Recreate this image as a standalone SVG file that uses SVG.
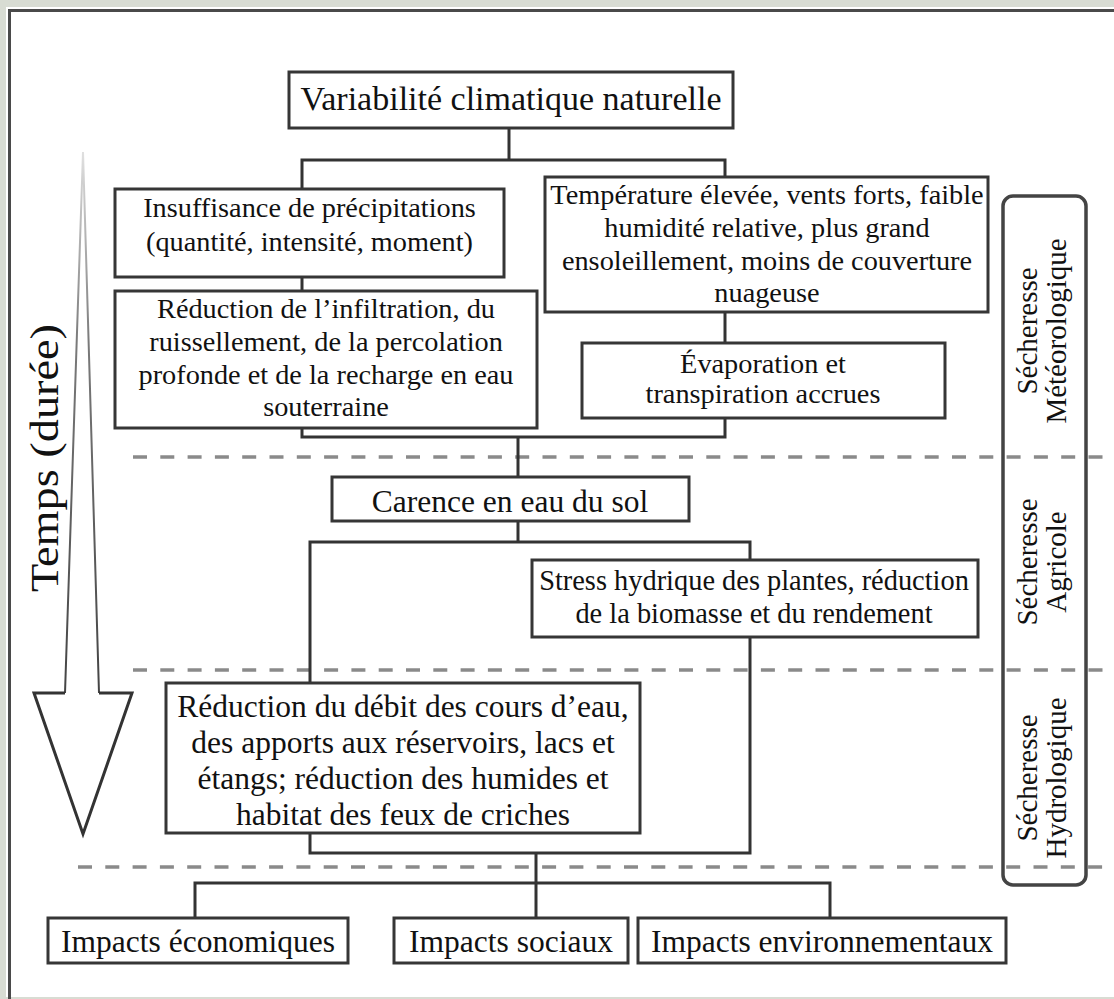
<svg xmlns="http://www.w3.org/2000/svg" width="1114" height="999" viewBox="0 0 1114 999">
<defs>
<style>
.box{fill:#fff;stroke:#363636;stroke-width:3}
.ln{fill:none;stroke:#333;stroke-width:3}
.dash{fill:none;stroke:#8a8a8a;stroke-width:3.5;stroke-dasharray:14 13.3}
.t{font-family:"Liberation Serif","Times New Roman",serif;fill:#111;text-anchor:middle}
.s28{font-size:28.3px}
.s31{font-size:31.5px}
.lab{font-size:29px}
</style>
<linearGradient id="shaft" x1="0" y1="152" x2="0" y2="693" gradientUnits="userSpaceOnUse">
<stop offset="0" stop-color="#e0e0e0"/><stop offset="0.35" stop-color="#7a7a7a"/><stop offset="1" stop-color="#444"/>
</linearGradient>
</defs>
<rect width="1114" height="999" fill="#d8dcd3"/>
<rect x="6" y="7" width="1108" height="990" fill="#fff"/>
<path d="M9.5 999 V10.5 H1114" fill="none" stroke="#4a4a4a" stroke-width="3"/>

<g id="phase-labels">
<rect x="1003" y="196" width="83" height="689" rx="10" fill="none" stroke="#444" stroke-width="3.5"/>
<text class="t lab" transform="translate(1037,331) rotate(-90)">Sécheresse</text>
<text class="t lab" transform="translate(1066,331) rotate(-90)">Météorologique</text>
<text class="t lab" transform="translate(1037,562) rotate(-90)">Sécheresse</text>
<text class="t lab" transform="translate(1066,562) rotate(-90)">Agricole</text>
<text class="t lab" transform="translate(1037,778) rotate(-90)">Sécheresse</text>
<text class="t lab" transform="translate(1066,778) rotate(-90)">Hydrologique</text>
</g>

<g id="separators">
<path class="dash" d="M133 457 H1112"/>
<path class="dash" d="M133 670 H1112"/>
<path class="dash" d="M78 867 H1112"/>
</g>

<g id="time-arrow">
<path d="M83 152 L65 693 M83 152 L99 693" stroke="url(#shaft)" stroke-width="2" fill="none"/>
<path d="M65 693 H34 L83 834 L132 693 H99" fill="none" stroke="#333" stroke-width="3"/>
<text class="t" font-size="40" textLength="268" lengthAdjust="spacingAndGlyphs" transform="translate(58,458) rotate(-90)">Temps (durée)</text>
</g>

<g id="connectors">
<path class="ln" d="M509 128 V160"/>
<path class="ln" d="M302 189 V160 H725 V177"/>
<path class="ln" d="M302 277 V291"/>
<path class="ln" d="M725 312 V343"/>
<path class="ln" d="M302 428 V437 H725 V418"/>
<path class="ln" d="M518 437 V477"/>
<path class="ln" d="M518 521 V542"/>
<path class="ln" d="M310 683 V542 H750 V560"/>
<path class="ln" d="M750 637 V853 H310 V833"/>
<path class="ln" d="M536 853 V918"/>
<path class="ln" d="M195 918 V883 H830 V918"/>
</g>

<g id="n-variabilite">
<rect class="box" x="289" y="72" width="444" height="56"/>
<text class="t" font-size="34" x="511" y="110">Variabilité climatique naturelle</text>
</g>
<g id="n-insuffisance">
<rect class="box" x="115" y="189" width="389" height="88"/>
<text class="t s28" x="309.5" y="217">Insuffisance de précipitations</text>
<text class="t s28" x="309.5" y="251">(quantité, intensité, moment)</text>
</g>
<g id="n-infiltration">
<rect class="box" x="115" y="291" width="422" height="137"/>
<text class="t s28" x="326" y="318">Réduction de l’infiltration, du</text>
<text class="t s28" x="326" y="351">ruissellement, de la percolation</text>
<text class="t s28" x="326" y="384">profonde et de la recharge en eau</text>
<text class="t s28" x="326" y="416">souterraine</text>
</g>
<g id="n-temperature">
<rect class="box" x="545" y="177" width="443" height="135"/>
<text class="t s28" x="767" y="204">Température élevée, vents forts, faible</text>
<text class="t s28" x="767" y="237">humidité relative, plus grand</text>
<text class="t s28" x="767" y="270">ensoleillement, moins de couverture</text>
<text class="t s28" x="767" y="302">nuageuse</text>
</g>
<g id="n-evaporation">
<rect class="box" x="582" y="343" width="363" height="75"/>
<text class="t s28" x="763" y="373">Évaporation et</text>
<text class="t s28" x="763" y="403">transpiration accrues</text>
</g>
<g id="n-carence">
<rect class="box" x="332" y="477" width="357" height="44"/>
<text class="t s31" x="510" y="512">Carence en eau du sol</text>
</g>
<g id="n-stress">
<rect class="box" x="532" y="560" width="446" height="77"/>
<text class="t" font-size="28.4" x="754" y="590">Stress hydrique des plantes, réduction</text>
<text class="t" font-size="28.4" x="754" y="623">de la biomasse et du rendement</text>
</g>
<g id="n-debit">
<rect class="box" x="166" y="683" width="474" height="150"/>
<text class="t s31" x="403" y="717">Réduction du débit des cours d’eau,</text>
<text class="t s31" x="403" y="753">des apports aux réservoirs, lacs et</text>
<text class="t s31" x="403" y="789">étangs; réduction des humides et</text>
<text class="t s31" x="403" y="825">habitat des feux de criches</text>
</g>
<g id="n-eco">
<rect class="box" x="48" y="918" width="300" height="45"/>
<text class="t s31" x="198" y="952">Impacts économiques</text>
</g>
<g id="n-soc">
<rect class="box" x="394" y="918" width="234" height="45"/>
<text class="t s31" x="511" y="952">Impacts sociaux</text>
</g>
<g id="n-env">
<rect class="box" x="638" y="918" width="368" height="45"/>
<text class="t s31" x="822" y="952">Impacts environnementaux</text>
</g>
</svg>
